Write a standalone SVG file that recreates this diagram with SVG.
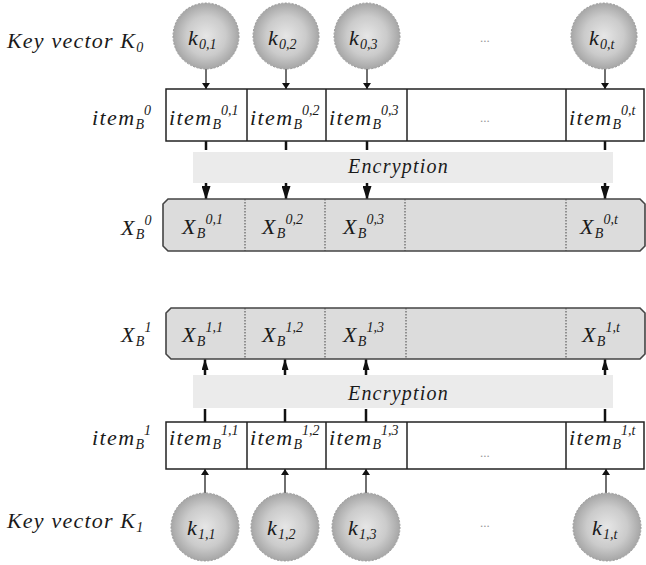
<svg xmlns="http://www.w3.org/2000/svg" width="646" height="565" viewBox="0 0 646 565">
<style>
  text { font-family: "Liberation Serif", "Times New Roman", serif; font-style: italic; fill: #1a1a1a; }
  .big { font-size: 22px; letter-spacing: 1.2px; }
  .cell { font-size: 22px; letter-spacing: 1.4px; }
  .enc { font-size: 20px; letter-spacing: 1.2px; }
  .sm { font-size: 14px; letter-spacing: 0px; }
  .dots { font-size: 13px; fill: #9a9a9a; font-style: normal; }
  .key { fill: url(#sphere); stroke: #999; stroke-width: 1; stroke-dasharray: 2 1.5; }
  .row { fill: #ffffff; stroke: #222; stroke-width: 1.5; }
  .xrow { fill: #dcdcdc; stroke: #444; stroke-width: 1.6; }
  .div { stroke: #222; stroke-width: 1.5; }
  .dot { stroke: #444; stroke-width: 1; stroke-dasharray: 1.5 1.5; }
  .band { fill: #ebebeb; }
  .thin { stroke: #222; stroke-width: 1.3; fill: none; }
  .thick { stroke: #111; stroke-width: 2.5; fill: none; }
</style>
<defs>
  <radialGradient id="sphere" cx="50%" cy="50%" r="50%">
    <stop offset="0" stop-color="#e6e6e6"/>
    <stop offset="0.6" stop-color="#cbcbcb"/>
    <stop offset="1" stop-color="#a6a6a6"/>
  </radialGradient>
  <marker id="ah-s" viewBox="0 0 6 8" refX="6" refY="4" markerWidth="6" markerHeight="8" markerUnits="userSpaceOnUse" orient="auto">
    <path d="M0,0 L6,4 L0,8 Z" fill="#111"/>
  </marker>
  <marker id="ah-b" viewBox="0 0 14 9" refX="14" refY="4.5" markerWidth="14" markerHeight="9" markerUnits="userSpaceOnUse" orient="auto">
    <path d="M0,0 L14,4.5 L0,9 Z" fill="#111"/>
  </marker>
  <marker id="ah-m" viewBox="0 0 11 7" refX="11" refY="3.5" markerWidth="11" markerHeight="7" markerUnits="userSpaceOnUse" orient="auto">
    <path d="M0,0 L11,3.5 L0,7 Z" fill="#111"/>
  </marker>
</defs>

<g id="labels">
  <text class="big" x="7" y="48">Key vector K<tspan class="sm" dy="4">0</tspan></text>
  <text class="cell" x="92" y="125">item<tspan class="sm" dy="4">B</tspan><tspan class="sm" dy="-14">0</tspan></text>
  <text class="cell" x="121" y="235">X<tspan class="sm" dy="4">B</tspan><tspan class="sm" dy="-14">0</tspan></text>
  <text class="cell" x="121" y="342">X<tspan class="sm" dy="4">B</tspan><tspan class="sm" dy="-14">1</tspan></text>
  <text class="cell" x="92" y="445">item<tspan class="sm" dy="4">B</tspan><tspan class="sm" dy="-14">1</tspan></text>
  <text class="big" x="7" y="528">Key vector K<tspan class="sm" dy="4">1</tspan></text>
</g>

<g id="band-0">
  <rect class="band" x="193" y="152" width="420" height="31"/>
  <text class="enc" x="348" y="173">Encryption</text>
</g>
<g id="band-1">
  <rect class="band" x="193" y="375" width="420" height="33"/>
  <text class="enc" x="348" y="400">Encryption</text>
</g>

<g id="connectors">
  <line class="thin" x1="206" y1="69" x2="206" y2="89" marker-end="url(#ah-s)"/>
  <line class="thin" x1="286" y1="69" x2="286" y2="89" marker-end="url(#ah-s)"/>
  <line class="thin" x1="367" y1="69" x2="367" y2="89" marker-end="url(#ah-s)"/>
  <line class="thin" x1="605" y1="69" x2="605" y2="89" marker-end="url(#ah-s)"/>
  <line class="thick" x1="206" y1="141" x2="206" y2="150"/>
  <line class="thick" x1="286" y1="141" x2="286" y2="150"/>
  <line class="thick" x1="367" y1="141" x2="367" y2="150"/>
  <line class="thick" x1="605" y1="141" x2="605" y2="150"/>
  <line class="thick" x1="206" y1="183" x2="206" y2="200" marker-end="url(#ah-b)"/>
  <line class="thick" x1="286" y1="183" x2="286" y2="200" marker-end="url(#ah-b)"/>
  <line class="thick" x1="367" y1="183" x2="367" y2="200" marker-end="url(#ah-b)"/>
  <line class="thick" x1="605" y1="183" x2="605" y2="200" marker-end="url(#ah-b)"/>
  <line class="thick" x1="205" y1="422" x2="205" y2="409"/>
  <line class="thick" x1="285" y1="422" x2="285" y2="409"/>
  <line class="thick" x1="366" y1="422" x2="366" y2="409"/>
  <line class="thick" x1="605" y1="422" x2="605" y2="409"/>
  <line class="thick" x1="205" y1="375" x2="205" y2="359" marker-end="url(#ah-m)"/>
  <line class="thick" x1="285" y1="375" x2="285" y2="359" marker-end="url(#ah-m)"/>
  <line class="thick" x1="366" y1="375" x2="366" y2="359" marker-end="url(#ah-m)"/>
  <line class="thick" x1="605" y1="375" x2="605" y2="359" marker-end="url(#ah-m)"/>
  <line class="thin" x1="205" y1="493" x2="205" y2="469" marker-end="url(#ah-s)"/>
  <line class="thin" x1="285" y1="493" x2="285" y2="469" marker-end="url(#ah-s)"/>
  <line class="thin" x1="366" y1="493" x2="366" y2="469" marker-end="url(#ah-s)"/>
  <line class="thin" x1="606" y1="493" x2="606" y2="469" marker-end="url(#ah-s)"/>
</g>

<g id="key-0-1"><circle class="key" cx="206" cy="36" r="33"/><text class="big" x="188" y="45">k<tspan class="sm" dy="4">0,1</tspan></text></g>
<g id="key-0-2"><circle class="key" cx="286" cy="36" r="33"/><text class="big" x="268" y="45">k<tspan class="sm" dy="4">0,2</tspan></text></g>
<g id="key-0-3"><circle class="key" cx="367" cy="36" r="33"/><text class="big" x="349" y="45">k<tspan class="sm" dy="4">0,3</tspan></text></g>
<g id="key-0-dots"><text class="dots" x="480" y="42">...</text></g>
<g id="key-0-t"><circle class="key" cx="604" cy="36" r="33"/><text class="big" x="589" y="45">k<tspan class="sm" dy="4">0,t</tspan></text></g>

<g id="item-0">
  <rect class="row" x="166" y="89" width="478" height="52"/>
  <line class="div" x1="247" y1="89" x2="247" y2="141"/>
  <line class="div" x1="326" y1="89" x2="326" y2="141"/>
  <line class="div" x1="407" y1="89" x2="407" y2="141"/>
  <line class="div" x1="566" y1="89" x2="566" y2="141"/>
  <text class="cell" x="169" y="125">item<tspan class="sm" dy="4">B</tspan><tspan class="sm" dy="-14">0,1</tspan></text>
  <text class="cell" x="250" y="125">item<tspan class="sm" dy="4">B</tspan><tspan class="sm" dy="-14">0,2</tspan></text>
  <text class="cell" x="329" y="125">item<tspan class="sm" dy="4">B</tspan><tspan class="sm" dy="-14">0,3</tspan></text>
  <text class="dots" x="480" y="122">...</text>
  <text class="cell" x="569" y="125">item<tspan class="sm" dy="4">B</tspan><tspan class="sm" dy="-14">0,t</tspan></text>
</g>

<g id="x-0">
  <path class="xrow" d="M168,199 H640 L645,204 V246 L640,251 H168 L163,246 V204 Z"/>
  <line class="dot" x1="245" y1="199" x2="245" y2="251"/>
  <line class="dot" x1="325" y1="199" x2="325" y2="251"/>
  <line class="dot" x1="405" y1="199" x2="405" y2="251"/>
  <line class="dot" x1="566" y1="199" x2="566" y2="251"/>
  <text class="cell" x="182" y="234">X<tspan class="sm" dy="4">B</tspan><tspan class="sm" dy="-14">0,1</tspan></text>
  <text class="cell" x="262" y="234">X<tspan class="sm" dy="4">B</tspan><tspan class="sm" dy="-14">0,2</tspan></text>
  <text class="cell" x="343" y="234">X<tspan class="sm" dy="4">B</tspan><tspan class="sm" dy="-14">0,3</tspan></text>
  <text class="cell" x="580" y="234">X<tspan class="sm" dy="4">B</tspan><tspan class="sm" dy="-14">0,t</tspan></text>
</g>

<g id="x-1">
  <path class="xrow" d="M171,308 H640 L645,313 V354 L640,359 H171 L166,354 V313 Z"/>
  <line class="dot" x1="245" y1="308" x2="245" y2="359"/>
  <line class="dot" x1="325" y1="308" x2="325" y2="359"/>
  <line class="dot" x1="406" y1="308" x2="406" y2="359"/>
  <line class="dot" x1="566" y1="308" x2="566" y2="359"/>
  <text class="cell" x="182" y="342">X<tspan class="sm" dy="4">B</tspan><tspan class="sm" dy="-14">1,1</tspan></text>
  <text class="cell" x="262" y="342">X<tspan class="sm" dy="4">B</tspan><tspan class="sm" dy="-14">1,2</tspan></text>
  <text class="cell" x="343" y="342">X<tspan class="sm" dy="4">B</tspan><tspan class="sm" dy="-14">1,3</tspan></text>
  <text class="cell" x="582" y="342">X<tspan class="sm" dy="4">B</tspan><tspan class="sm" dy="-14">1,t</tspan></text>
</g>

<g id="item-1">
  <rect class="row" x="166" y="422" width="478" height="47"/>
  <line class="div" x1="247" y1="422" x2="247" y2="469"/>
  <line class="div" x1="326" y1="422" x2="326" y2="469"/>
  <line class="div" x1="407" y1="422" x2="407" y2="469"/>
  <line class="div" x1="566" y1="422" x2="566" y2="469"/>
  <text class="cell" x="169" y="445">item<tspan class="sm" dy="4">B</tspan><tspan class="sm" dy="-14">1,1</tspan></text>
  <text class="cell" x="250" y="445">item<tspan class="sm" dy="4">B</tspan><tspan class="sm" dy="-14">1,2</tspan></text>
  <text class="cell" x="329" y="445">item<tspan class="sm" dy="4">B</tspan><tspan class="sm" dy="-14">1,3</tspan></text>
  <text class="dots" x="480" y="457">...</text>
  <text class="cell" x="569" y="445">item<tspan class="sm" dy="4">B</tspan><tspan class="sm" dy="-14">1,t</tspan></text>
</g>

<g id="key-1-1"><circle class="key" cx="205" cy="527" r="34"/><text class="big" x="187" y="535">k<tspan class="sm" dy="4">1,1</tspan></text></g>
<g id="key-1-2"><circle class="key" cx="285" cy="527" r="34"/><text class="big" x="267" y="535">k<tspan class="sm" dy="4">1,2</tspan></text></g>
<g id="key-1-3"><circle class="key" cx="366" cy="527" r="34"/><text class="big" x="348" y="535">k<tspan class="sm" dy="4">1,3</tspan></text></g>
<g id="key-1-dots"><text class="dots" x="480" y="527">...</text></g>
<g id="key-1-t"><circle class="key" cx="607" cy="527" r="34"/><text class="big" x="592" y="535">k<tspan class="sm" dy="4">1,t</tspan></text></g>
</svg>
